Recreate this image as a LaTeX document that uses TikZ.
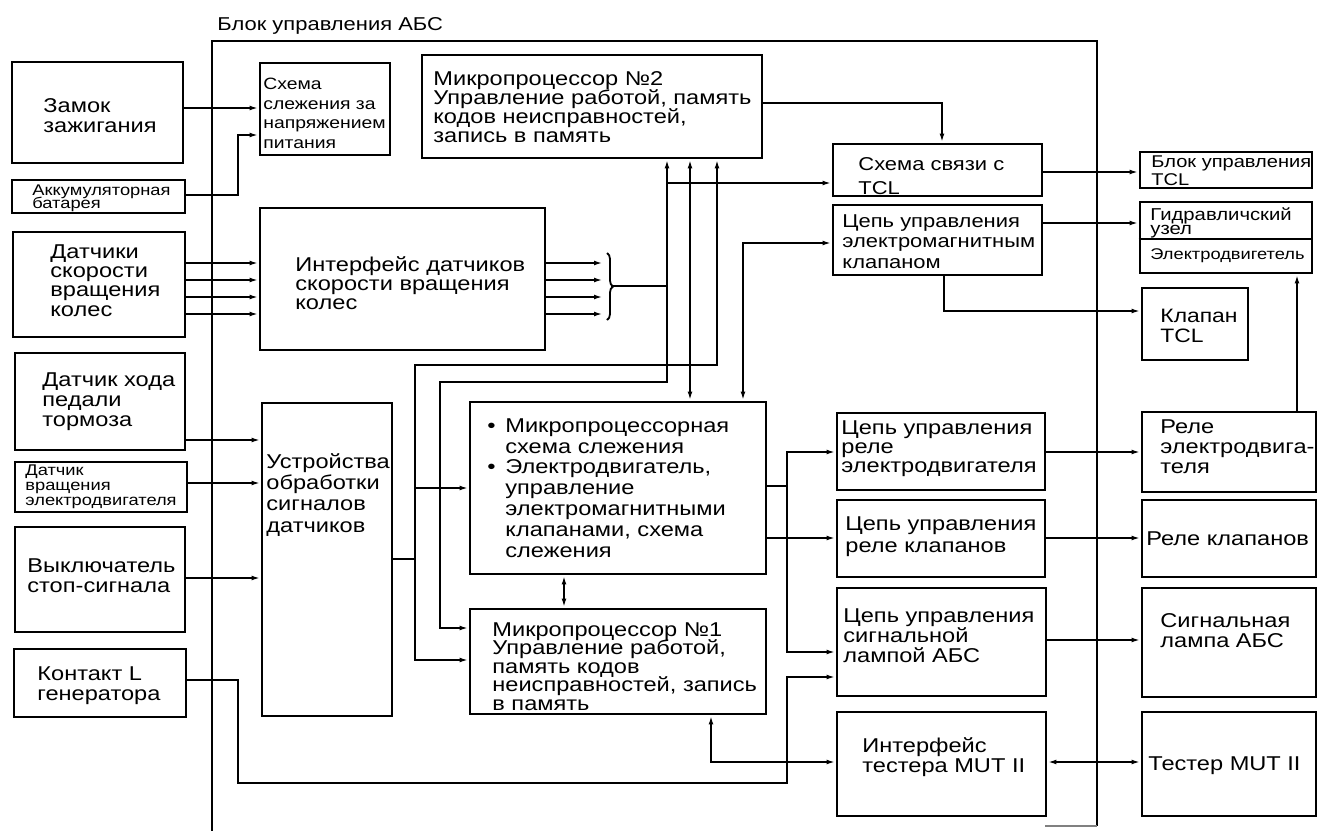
\documentclass[tikz,border=0pt]{standalone}
\usepackage{fontspec}
\setmainfont{Liberation Sans}[FakeStretch=1.18]
\usetikzlibrary{arrows.meta,fit,decorations.pathreplacing}
\lineskiplimit=-100pt
\newcommand\mybul{\makebox[9pt][l]{•}}
\newcommand\myind{\hspace*{9pt}}
\begin{document}
\begin{tikzpicture}[x=0.5pt,y=-0.5pt,
  box/.style={draw, line width=1.4pt, inner sep=0pt},
  ln/.style={line width=0.9pt},
  arr/.style={ln, -{Latex[length=4.5pt,width=2.4pt]}},
  darr/.style={ln, {Latex[length=4.5pt,width=2.4pt]}-{Latex[length=4.5pt,width=2.4pt]}},
  t/.style 2 args={inner sep=0pt, anchor=base west, align=left, font=\fontsize{#1}{#2}\selectfont},
]
\useasboundingbox (0,0) rectangle (1319,831);

% title and ABS block outline (text nodes are placed at the baseline of their last line)
\node[t={9.3}{11}] (title) at (217,30) {Блок управления АБС};
\draw[line width=1.2pt] (212,831) -- (212,41) -- (1097,41) -- (1097,826);
\draw[line width=0.6pt, gray] (1045,826) -- (1097,826);

% left column
\node[box, fit={(12,62)(183,163)}] (zam) {};
\node[t={10}{10}] (zamT) at (43,132) {Замок\\зажигания};
\node[box, fit={(12,180)(185,213)}] (akk) {};
\node[t={7.75}{6.5}] (akkT) at (32,208) {Аккумуляторная\\батарея};
\node[box, fit={(13,232)(185,337)}] (dsk) {};
\node[t={10}{9.65}] (dskT) at (50,316) {Датчики\\скорости\\вращения\\колес};
\node[box, fit={(15,353)(185,450)}] (dhp) {};
\node[t={10}{10}] (dhpT) at (42,426) {Датчик хода\\педали\\тормоза};
\node[box, fit={(15,462)(187,512)}] (dve) {};
\node[t={7.75}{7.5}] (dveT) at (25,505) {Датчик\\вращения\\электродвигателя};
\node[box, fit={(15,527)(185,632)}] (vss) {};
\node[t={10}{10}] (vssT) at (27,592) {Выключатель\\стоп-сигнала};
\node[box, fit={(14,649)(186,717)}] (kon) {};
\node[t={10}{10}] (konT) at (37,700) {Контакт L\\генератора};

% inside the ABS block
\node[box, fit={(260,63)(390,155)}] (sup) {};
\node[t={8.2}{9.75}] (supT) at (263,148) {Схема\\слежения за\\напряжением\\питания};
\node[box, fit={(422,55)(762,158)}] (mp2) {};
\node[t={10}{9.35}] (mp2T) at (433,142) {Микропроцессор №2\\Управление работой, память\\кодов неисправностей,\\запись в память};
\node[box, fit={(260,208)(545,350)}] (wsi) {};
\node[t={10}{9.5}] (wsiT) at (295,309) {Интерфейс датчиков\\скорости вращения\\колес};
\node[box, fit={(262,403)(392,716)}] (sig) {};
\node[t={10}{10.65}] (sigT) at (266,532) {Устройства\\обработки\\сигналов\\датчиков};
\node[box, fit={(470,402)(766,574)}] (mon) {};
\node[t={10}{10.4}] (monT) at (487,557) {\mybul Микропроцессорная\\\myind схема слежения\\\mybul Электродвигатель,\\\myind управление\\\myind электромагнитными\\\myind клапанами, схема\\\myind слежения};
\node[box, fit={(470,609)(766,714)}] (mp1) {};
\node[t={10}{9.25}] (mp1T) at (492,710) {Микропроцессор №1\\Управление работой,\\память кодов\\неисправностей, запись\\в память};

\node[box, fit={(833,144)(1042,196)}] (tcc) {};
\node[t={9.3}{12}] (tccT) at (858,194) {Схема связи с\\TCL};
\node[box, fit={(833,205)(1042,275)}] (svc) {};
\node[t={9.3}{10.25}] (svcT) at (842,268) {Цепь управления\\электромагнитным\\клапаном};
\node[box, fit={(837,413)(1045,490)}] (mrc) {};
\node[t={10}{9.5}] (mrcT) at (841,472) {Цепь управления\\реле\\электродвигателя};
\node[box, fit={(837,500)(1045,577)}] (vrc) {};
\node[t={10}{11}] (vrcT) at (845,552) {Цепь управления\\реле клапанов};
\node[box, fit={(837,588)(1046,696)}] (wlc) {};
\node[t={10}{10}] (wlcT) at (843,662) {Цепь управления\\сигнальной\\лампой АБС};
\node[box, fit={(837,712)(1046,816)}] (mui) {};
\node[t={10}{10}] (muiT) at (862,772) {Интерфейс\\тестера MUT II};

% right column
\node[box, fit={(1140,152)(1312,188)}] (tcu) {};
\node[t={8.5}{9}] (tcuT) at (1151,185) {Блок управления\\TCL};
\node[box, fit={(1140,202)(1312,273)}] (hyd) {};
\node[t={8.6}{7}] (hydT) at (1150,234) {Гидравличский\\узел};
\draw[line width=1.4pt] (hyd.west |- 0,239) -- (hyd.east |- 0,239);
\node[t={7.75}{8}] (motT) at (1150,259) {Электродвигетель};
\node[box, fit={(1142,288)(1248,360)}] (tcv) {};
\node[t={9.7}{10}] (tcvT) at (1160,342) {Клапан\\TCL};
\node[box, fit={(1142,412)(1316,492)}] (mry) {};
\node[t={10}{10}] (mryT) at (1160,473) {Реле\\электродвига-\\теля};
\node[box, fit={(1142,500)(1316,577)}] (vry) {};
\node[t={10}{10}] (vryT) at (1146,545) {Реле клапанов};
\node[box, fit={(1142,588)(1316,697)}] (wl) {};
\node[t={10}{10}] (wlT) at (1160,647) {Сигнальная\\лампа АБС};
\node[box, fit={(1142,712)(1316,816)}] (mut) {};
\node[t={10}{10}] (mutT) at (1148,770) {Тестер MUT II};

% connectors, left side
\draw[arr] (zam.east |- 0,108) -- (sup.west |- 0,108);
\draw[arr] (akk.east |- 0,195) -- (238,195) |- (sup.west |- 0,135);
\foreach \yy in {263,280,297,314} {
  \draw[arr] (dsk.east |- 0,\yy) -- (wsi.west |- 0,\yy);
  \draw[arr] (wsi.east |- 0,\yy) -- (603,\yy);
}
\draw[ln, decorate, decoration={brace, amplitude=3pt}] (607,253) -- (607,320);
\coordinate (brtip) at (611,286);
\draw[arr] (dhp.east |- 0,440) -- (sig.west |- 0,440);
\draw[arr] (dve.east |- 0,483) -- (sig.west |- 0,483);
\draw[arr] (vss.east |- 0,578) -- (sig.west |- 0,578);
\draw[arr] (kon.east |- 0,680) -- (238,680) |- (787,783) |- (wlc.west |- 0,677);

% buses
\draw[arr] (brtip) -| (mp2.south -| 667,0);
\draw[arr] (667,183) -- (tcc.west |- 0,183);
\draw[arr] (667,286) |- (440,382) |- (mp1.west |- 0,628);
\draw[darr] (mp2.south -| 690,0) -- (mon.north -| 690,0);
\draw[arr] (sig.east |- 0,559) -- (415,559) |- (717,365) -- (mp2.south -| 717,0);
\draw[arr] (415,488) -- (mon.west |- 0,488);
\draw[arr] (415,559) |- (mp1.west |- 0,660);
\draw[darr] (mon.north -| 743,0) |- (svc.west |- 0,243);
\draw[arr] (mp2.east |- 0,103) -| (tcc.north -| 942,0);
\draw[darr] (mon.south -| 564,0) -- (mp1.north -| 564,0);
\draw[ln] (mon.east |- 0,486) -- (787,486);
\draw[darr] (mrc.west |- 0,452) -| (787,652) -- (wlc.west |- 0,652);
\draw[arr] (mon.east |- 0,538) -- (vrc.west |- 0,538);
\draw[darr] (mp1.south -| 711,0) |- (mui.west |- 0,762);

% right side
\draw[arr] (tcc.east |- 0,172) -- (tcu.west |- 0,172);
\draw[arr] (svc.east |- 0,223) -- (hyd.west |- 0,223);
\draw[arr] (svc.south -| 944,0) |- (tcv.west |- 0,311);
\draw[arr] (mrc.east |- 0,452) -- (mry.west |- 0,452);
\draw[arr] (vrc.east |- 0,538) -- (vry.west |- 0,538);
\draw[arr] (wlc.east |- 0,640) -- (wl.west |- 0,640);
\draw[darr] (mui.east |- 0,762) -- (mut.west |- 0,762);
\draw[arr] (mry.north -| 1297,0) -- (hyd.south -| 1297,0);
\end{tikzpicture}
\end{document}
